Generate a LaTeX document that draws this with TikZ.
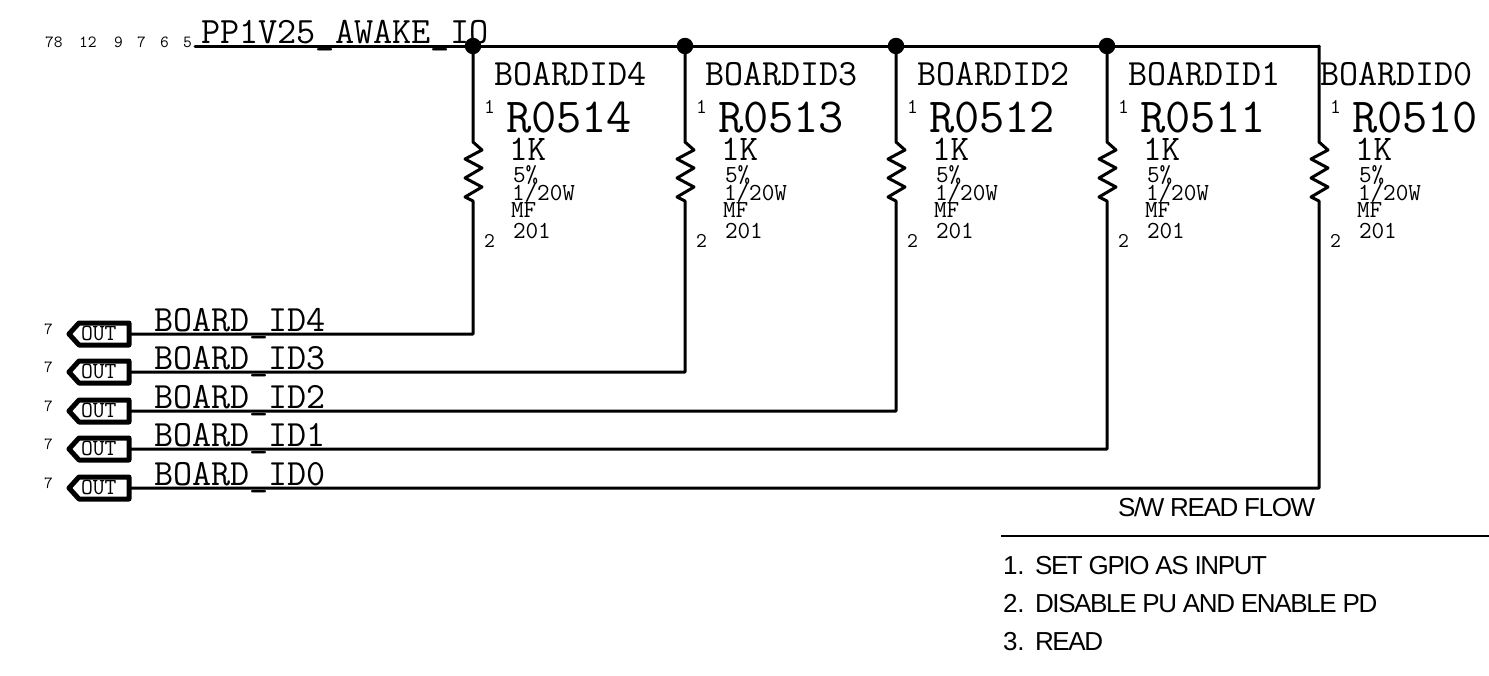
\documentclass[tikz,border=0pt]{standalone}
\usepackage{fontspec}
\setmainfont{Liberation Sans}
\newcommand{\ttsz}[1]{\fontsize{#1}{#1}\ttfamily\selectfont}
\newcommand{\sfsz}{\fontsize{26}{30}\rmfamily\selectfont}
\newcommand{\sftight}{\sfsz\addfontfeature{LetterSpace=-5.3}}
\tikzset{
  wire/.style={line width=3pt,line cap=round,line join=round},
  flagline/.style={line width=5pt,line join=round},
  dotj/.style={circle,fill=black,inner sep=0pt,minimum size=16.5pt},
  txt/.style={inner sep=0pt,outer sep=0pt,anchor=base west},
  pinno/.style={txt,font=\ttsz{17}},
  pinres/.style={txt,font=\ttsz{21}},
  netname/.style={txt,font=\ttsz{37}},
  refdes/.style={txt,font=\ttsz{49}},
  valtxt/.style={txt,font=\ttsz{36}},
  smalltxt/.style={txt,font=\ttsz{24.5}},
  flagtxt/.style={txt,font=\ttsz{23}},
  sftxt/.style={txt,font=\sfsz},
  sftitle/.style={txt,font=\sftight}
}
\begin{document}
\begin{tikzpicture}[x=1pt,y=1pt]
\useasboundingbox (0,0) rectangle (1489,-675);
\fill[white] (0,0) rectangle (1489,-675);

% power rail
\coordinate (railstart) at (195,-46);
\coordinate (railend) at (1319,-46);
\node[pinno] (pin78) at (45,-47) {78};
\node[pinno] (pin12) at (79,-47) {12};
\node[pinno] (pin9) at (114,-47) {9};
\node[pinno] (pin7) at (137,-47) {7};
\node[pinno] (pin6) at (160,-47) {6};
\node[pinno] (pin5) at (183,-47) {5};
\node[netname,font=\ttsz{37.2}] (railname) at (201,-43.5) {PP1V25\_AWAKE\_IO};
\draw[wire] (railstart) -- (railend);

% resistor columns
\foreach \i/\xx/\yy/\rn/\lx in {4/473/334/R0514/21,3/685/372/R0513/20,2/896/411/R0512/21,1/1107/449/R0511/21,0/1319/488/R0510/1}{
  \coordinate (top\i) at (\xx,-46);
  \coordinate (ra\i) at (\xx,-142);
  \coordinate (rb\i) at (\xx,-201);
  \coordinate (bot\i) at (\xx,-\yy);
  \coordinate (fl\i) at (130,-\yy);
  \draw[wire] (top\i) -- (ra\i)
    -- ++(9,-8) -- ++(-17,-9) -- ++(17,-9) -- ++(-17,-10) -- ++(17,-9) -- ++(-17,-10) -- (rb\i)
    -- (bot\i) -- (fl\i);
  \node[netname] (id\i) at (\xx+\lx,-85) {BOARDID\i};
  \node[pinres] (pa\i) at (\xx+11,-113) {1};
  \node[pinres] (pb\i) at (\xx+11,-247) {2};
  \node[refdes] (ref\i) at (\xx+33,-132) {\rn};
  \node[valtxt] (val\i) at (\xx+36,-160) {1K};
  \node[smalltxt] (tol\i) at (\xx+40,-182) {5\%};
  \node[smalltxt] (pow\i) at (\xx+39,-200) {1/20W};
  \node[smalltxt] (mf\i) at (\xx+38,-217) {MF};
  \node[smalltxt] (pkg\i) at (\xx+40,-238) {201};
  % off-page flag
  \draw[flagline,fill=white] (129,-\yy+11) -- (79,-\yy+11) -- (69,-\yy) -- (79,-\yy-11) -- (129,-\yy-11) -- cycle;
  \node[flagtxt] (out\i) at (81,-\yy-6.5) {OUT};
  \node[pinno] (flagpin\i) at (44,-\yy) {7};
  \node[netname] (sig\i) at (154,-\yy+3) {BOARD\_ID\i};
}

% junctions
\node[dotj] (j4) at (top4) {};
\node[dotj] (j3) at (top3) {};
\node[dotj] (j2) at (top2) {};
\node[dotj] (j1) at (top1) {};

% software note
\node[sftitle] (flowtitle) at (1118,-516) {S/W READ FLOW};
\coordinate (notea) at (1001,-536);
\coordinate (noteb) at (1489,-536);
\draw[line width=2pt] (notea) -- (noteb);
\node[sftxt] (n1) at (1003,-574) {1.};
\node[sftitle] (t1) at (1035,-574) {SET GPIO AS INPUT};
\node[sftxt] (n2) at (1003,-612) {2.};
\node[sftitle] (t2) at (1035,-612) {DISABLE PU AND ENABLE PD};
\node[sftxt] (n3) at (1003,-650) {3.};
\node[sftitle] (t3) at (1035,-650) {READ};
\end{tikzpicture}
\end{document}
